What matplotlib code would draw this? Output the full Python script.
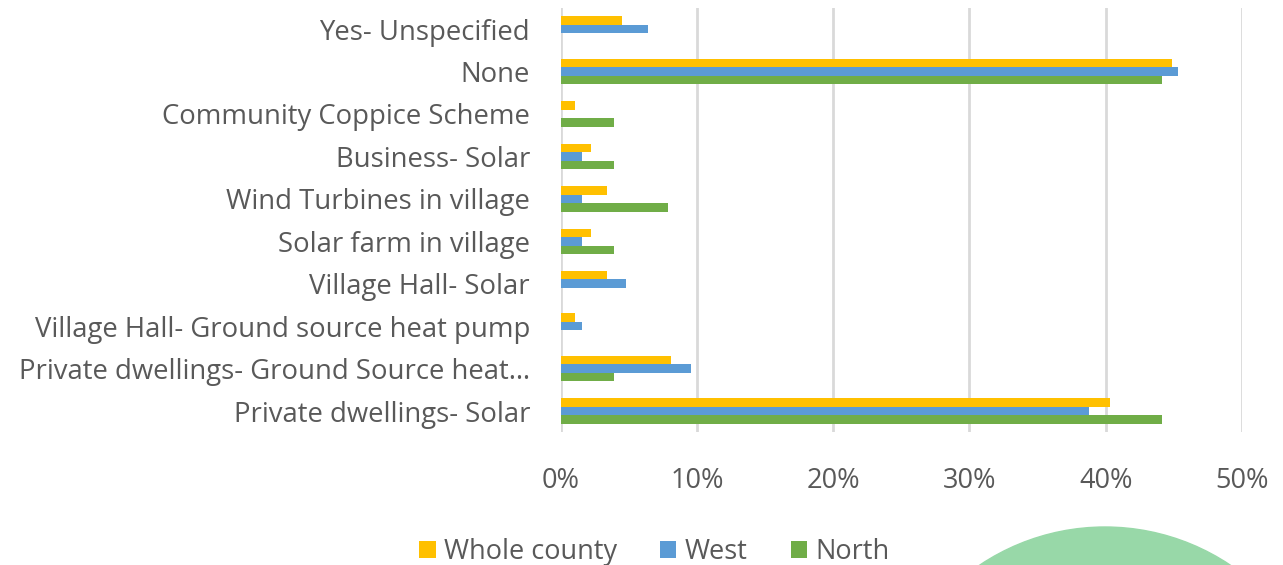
import matplotlib.pyplot as plt
import numpy as np
from matplotlib.patches import Ellipse

categories = ["Yes- Unspecified", "None", "Community Coppice Scheme", "Business- Solar",
              "Wind Turbines in village", "Solar farm in village", "Village Hall- Solar",
              "Village Hall- Ground source heat pump", "Private dwellings- Ground Source heat…",
              "Private dwellings- Solar"]
whole_county = [4.5, 44.9, 1.05, 2.2, 3.4, 2.2, 3.4, 1.05, 8.1, 40.3]
west = [6.4, 45.3, 0, 1.6, 1.6, 1.6, 4.8, 1.6, 9.6, 38.8]
north = [0, 44.1, 3.9, 3.9, 7.9, 3.9, 0, 0, 3.9, 44.1]
series_names = ["Whole county", "West", "North"]
colors = ["#ffc000", "#5b9bd5", "#70ad47"]
xticks = [0, 10, 20, 30, 40, 50]

plt.rcParams['font.family'] = ['Open Sans', 'DejaVu Sans']
W, H = 1283, 565
fig = plt.figure(figsize=(W / 100, H / 100), dpi=100)
ax = fig.add_axes([0.437, 0.235, 0.531, 0.751])

y = np.arange(len(categories))
h = 0.2
for i, (vals, name, c) in enumerate(zip([whole_county, west, north], series_names, colors)):
    ax.barh(y + (i - 1) * h, vals, height=h, color=c, label=name, zorder=3)

ax.set_ylim(len(categories) - 0.5, -0.5)
ax.set_xlim(0, 50)
ax.set_yticks(y)
ax.set_yticklabels(categories, fontsize=19.8, color="#595959")
ax.set_xticks(xticks)
ax.set_xticklabels([f"{t}%" for t in xticks], fontsize=19.5, color="#595959")
ax.tick_params(length=0)
ax.tick_params(axis='y', pad=22)
ax.tick_params(axis='x', pad=25)
ax.grid(axis='x', color="#d9d9d9", linewidth=2, zorder=0)
for s in ax.spines.values():
    s.set_visible(False)

fig.legend(loc='lower center', bbox_to_anchor=(0.51, -0.045), ncol=3, frameon=False,
           fontsize=19.5, handlelength=0.6, handleheight=0.6, handletextpad=0.3,
           columnspacing=1.6, labelcolor="#595959")

# green circle decoration at bottom right
r = 225
circ = Ellipse((1105 / W, (H - 752) / H), 2 * r / W, 2 * r / H,
               transform=fig.transFigure, color="#98d8a8", zorder=0)
fig.patches.append(circ)

fig.savefig("out.png", dpi=100)
